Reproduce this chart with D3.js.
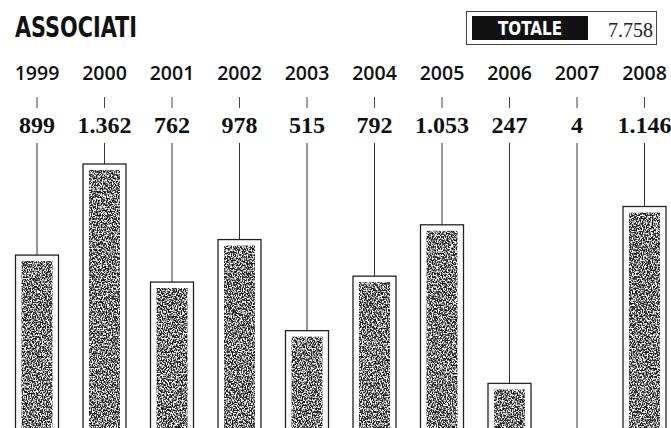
<!DOCTYPE html>
<html><head><meta charset="utf-8">
<script src="https://cdn.jsdelivr.net/npm/d3@7"></script>
<style>html,body{margin:0;padding:0;background:#fff;overflow:hidden}</style>
</head><body>
<script>
const title = "ASSOCIATI";
const years = ["1999","2000","2001","2002","2003","2004","2005","2006","2007","2008"];
const values = [899,1362,762,978,515,792,1053,247,4,1146];
const totalLabel = "TOTALE";
const totalValue = 7758;

const W = 671, H = 428;
const it = d3.formatLocale({decimal:",", thousands:".", grouping:[3], currency:["€",""]});
const fmt = it.format(",d");

const svg = d3.select("body").append("svg").attr("width", W).attr("height", H);
const defs = svg.append("defs");
const f = defs.append("filter").attr("id","noise")
  .attr("filterUnits","objectBoundingBox").attr("x",0).attr("y",0).attr("width",1).attr("height",1);
f.append("feTurbulence").attr("type","fractalNoise").attr("baseFrequency","0.8 0.6")
  .attr("numOctaves",2).attr("seed",7).attr("result","t");
f.append("feColorMatrix").attr("in","t").attr("type","matrix")
  .attr("values","0 0 0 0 0  0 0 0 0 0  0 0 0 0 0  -3.0 0 0 0 2.0").attr("result","a");
f.append("feComponentTransfer").attr("in","a").attr("result","b")
  .append("feFuncA").attr("type","discrete").attr("tableValues","0.05 0.35 0.7 0.9");
f.append("feComposite").attr("in","b").attr("in2","SourceGraphic").attr("operator","in");

const x = d3.scalePoint().domain(years).range([37, 644.5]);
const y = d3.scaleLinear().domain([0, d3.max(values)]).range([432, 164]);
const barW = 43, inset = 6;

// title
svg.append("text").attr("x",15).attr("y",37).text(title)
  .attr("font-family","'DejaVu Sans Condensed','Open Sans',sans-serif")
  .attr("font-weight","bold").attr("font-size",28).attr("fill","#111")
  .attr("textLength",122).attr("lengthAdjust","spacingAndGlyphs");

// total box
svg.append("rect").attr("x",466.5).attr("y",11.5).attr("width",190).attr("height",33)
  .attr("fill","#fff").attr("stroke","#444").attr("stroke-width",1);
svg.append("rect").attr("x",472).attr("y",16).attr("width",116).attr("height",24).attr("fill","#111");
svg.append("text").attr("x",530).attr("y",34.5).attr("text-anchor","middle").text(totalLabel)
  .attr("font-family","'DejaVu Sans Condensed','Open Sans',sans-serif")
  .attr("font-weight","bold").attr("font-size",19).attr("fill","#fff")
  .attr("textLength",64).attr("lengthAdjust","spacingAndGlyphs");
svg.append("text").attr("x",653).attr("y",37).attr("text-anchor","end").text(fmt(totalValue))
  .attr("font-family","'Liberation Serif',serif").attr("font-size",20).attr("fill","#222");

const g = svg.selectAll("g.col").data(years.map((yr,i)=>({yr, v: values[i]}))).join("g").attr("class","col");

g.append("text").attr("x", d=>x(d.yr)).attr("y",80).attr("text-anchor","middle").text(d=>d.yr)
  .attr("font-family","'Open Sans','Noto Sans',sans-serif").attr("font-weight",600)
  .attr("font-size",19.5).attr("fill","#111");
g.append("line").attr("x1",d=>x(d.yr)).attr("x2",d=>x(d.yr)).attr("y1",97).attr("y2",108)
  .attr("stroke","#444").attr("stroke-width",1);
g.append("text").attr("x", d=>x(d.yr)).attr("y",133).attr("text-anchor","middle").text(d=>fmt(d.v))
  .attr("font-family","'Liberation Serif',serif").attr("font-weight","bold").attr("font-size",24).attr("fill","#111");
g.append("line").attr("x1",d=>x(d.yr)).attr("x2",d=>x(d.yr)).attr("y1",143).attr("y2",d=>y(d.v))
  .attr("stroke","#333").attr("stroke-width",1);

const bars = g.filter(d => y(0) - y(d.v) > 2);
bars.append("rect").attr("x",d=>x(d.yr)-barW/2).attr("y",d=>y(d.v))
  .attr("width",barW).attr("height",d=>y(0)-y(d.v))
  .attr("fill","#fff").attr("stroke","#222").attr("stroke-width",1.3);
bars.append("rect").attr("x",d=>x(d.yr)-barW/2+inset).attr("y",d=>y(d.v)+inset)
  .attr("width",barW-2*inset).attr("height",d=>Math.max(0,y(0)-y(d.v)-inset))
  .attr("fill","#2a2a2a").attr("filter","url(#noise)");
</script>
</body></html>
